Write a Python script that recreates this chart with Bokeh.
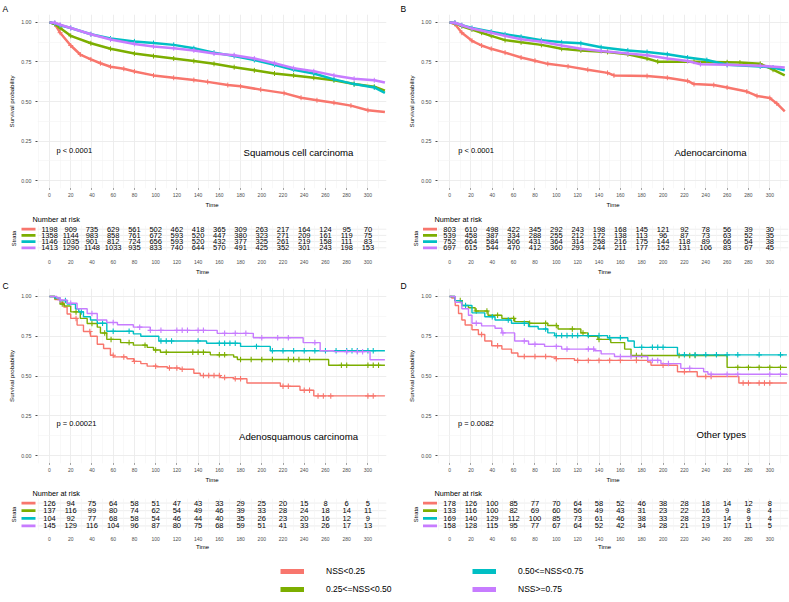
import numpy as np
from bokeh.plotting import figure
from bokeh.layouts import column, row
from bokeh.models import Range1d, FixedTicker, NumeralTickFormatter, Legend, LegendItem
from bokeh.core.properties import value
from bokeh.embed import file_html
from bokeh.resources import INLINE

FONT = "Liberation Sans"
GROUPS = ["NSS<0.25", "0.25<=NSS<0.50", "0.50<=NSS<0.75", "NSS>=0.75"]
COLORS = ["#F8766D", "#7CAE00", "#00BFC4", "#C77CFF"]

TIME_TICKS = [0, 20, 40, 60, 80, 100, 120, 140, 160, 180, 200, 220, 240, 260, 280, 300]
TIME_MINOR = [-10, 10, 30, 50, 70, 90, 110, 130, 150, 170, 190, 210, 230, 250, 270, 290, 310]
SURV_TICKS = [0, 0.25, 0.5, 0.75, 1.0]
SURV_MINOR = [0.125, 0.375, 0.625, 0.875]

# ---------------- Panel A : Squamous cell carcinoma ----------------
A_NAME = "Squamous cell carcinoma"
A_PVAL = "p < 0.0001"
A_TIME = [
    [0, 5, 10, 20, 29, 39, 48, 57.5, 70, 80, 98, 117, 136, 149, 168, 180, 199, 221, 237, 252, 268, 284, 300, 316],
    [0, 5, 10, 20, 39, 57.5, 80, 98, 117, 136, 155, 174, 193, 212, 230, 249, 268, 287, 306, 316],
    [0, 5, 10, 20, 39, 57.5, 80, 98, 117, 136, 155, 174, 193, 212, 230, 249, 268, 287, 306, 316],
    [0, 5, 10, 20, 39, 57.5, 80, 98, 117, 136, 155, 174, 193, 212, 230, 249, 268, 287, 306, 316],
]
A_SURV = [
    [1.0, 0.99, 0.935, 0.854, 0.797, 0.766, 0.742, 0.72, 0.707, 0.69, 0.665, 0.65, 0.636, 0.624, 0.604, 0.596, 0.575, 0.553, 0.524, 0.508, 0.492, 0.474, 0.445, 0.433],
    [1.0, 0.99, 0.965, 0.915, 0.868, 0.833, 0.803, 0.787, 0.772, 0.756, 0.738, 0.717, 0.697, 0.677, 0.665, 0.65, 0.634, 0.61, 0.593, 0.569],
    [1.0, 0.995, 0.982, 0.965, 0.925, 0.898, 0.88, 0.87, 0.858, 0.837, 0.809, 0.787, 0.762, 0.732, 0.701, 0.677, 0.64, 0.61, 0.589, 0.555],
    [1.0, 0.998, 0.985, 0.965, 0.925, 0.892, 0.864, 0.848, 0.837, 0.823, 0.803, 0.793, 0.772, 0.742, 0.711, 0.691, 0.665, 0.644, 0.634, 0.62],
]
A_RISK = [
    [1198, 909, 735, 629, 561, 502, 462, 418, 365, 309, 263, 217, 164, 124, 95, 70],
    [1358, 1144, 983, 858, 761, 672, 593, 520, 447, 380, 323, 271, 209, 161, 119, 75],
    [1146, 1035, 901, 812, 724, 656, 593, 520, 432, 377, 325, 261, 219, 158, 111, 83],
    [1413, 1290, 1148, 1033, 935, 833, 740, 644, 570, 491, 425, 352, 301, 243, 198, 153],
]

# ---------------- Panel B : Adenocarcinoma ----------------
B_NAME = "Adenocarcinoma"
B_PVAL = "p < 0.0001"
B_TIME = [
    [0, 5, 11.5, 21, 30, 39, 52, 67, 80, 92, 111, 129.5, 148, 154, 185, 204, 223, 229, 247.5, 260, 278.5, 288, 300, 306.5, 314],
    [0, 5, 11.5, 21, 30, 39, 52, 67, 86, 105, 123, 148, 167, 185, 195, 229, 260, 272, 291, 303, 314],
    [0, 5, 11.5, 21, 39, 52, 67, 86, 105, 123, 142, 167, 185, 204, 223, 241, 260, 291, 303, 314],
    [0, 5, 11.5, 21, 39, 52, 67, 86, 105, 123, 142, 167, 185, 204, 223, 235, 260, 291, 314],
]
B_SURV = [
    [1.0, 0.99, 0.935, 0.884, 0.854, 0.833, 0.809, 0.778, 0.758, 0.738, 0.722, 0.701, 0.681, 0.665, 0.661, 0.65, 0.63, 0.61, 0.604, 0.589, 0.563, 0.535, 0.522, 0.488, 0.437],
    [1.0, 0.995, 0.976, 0.955, 0.935, 0.915, 0.888, 0.874, 0.858, 0.833, 0.823, 0.813, 0.799, 0.772, 0.752, 0.752, 0.748, 0.746, 0.738, 0.701, 0.665],
    [1.0, 0.998, 0.982, 0.965, 0.941, 0.925, 0.909, 0.888, 0.874, 0.868, 0.843, 0.823, 0.813, 0.799, 0.778, 0.762, 0.732, 0.722, 0.715, 0.697],
    [1.0, 0.998, 0.982, 0.961, 0.935, 0.915, 0.894, 0.878, 0.854, 0.833, 0.819, 0.803, 0.793, 0.772, 0.756, 0.736, 0.732, 0.726, 0.715],
]
B_RISK = [
    [803, 610, 498, 422, 345, 292, 243, 198, 168, 145, 121, 92, 78, 56, 39, 30],
    [539, 458, 387, 334, 288, 255, 212, 172, 138, 113, 96, 87, 73, 63, 52, 35],
    [752, 664, 584, 506, 431, 364, 314, 258, 216, 175, 144, 118, 89, 66, 54, 38],
    [697, 615, 544, 470, 412, 360, 293, 244, 211, 177, 152, 131, 106, 83, 67, 45],
]

# ---------------- Panel C : Adenosquamous carcinoma ----------------
C_NAME = "Adenosquamous carcinoma"
C_PVAL = "p = 0.00021"
C_TIME = [
    [0, 5, 10.4, 13.5, 16.6, 20, 26, 32, 38.6, 45, 51, 57.4, 60.6, 73, 79.4, 86, 92, 101, 111, 123, 136, 142, 161, 173.5, 186, 217.5, 236, 249, 316],
    [0, 5, 10, 14, 20, 29, 35.5, 45, 48, 54, 67, 79, 92, 98, 104.5, 151.5, 173.5, 177, 263, 316],
    [0, 5, 10, 16.6, 24.5, 27.6, 32, 38.6, 45, 54, 79, 86, 103, 148, 180, 208, 316],
    [0, 7, 10, 16.6, 26, 35.5, 45, 54, 64, 79, 95, 158, 192, 239, 255, 268, 302, 316],
]
C_SURV = [
    [1.0, 0.98, 0.963, 0.933, 0.89, 0.862, 0.82, 0.78, 0.75, 0.70, 0.673, 0.63, 0.62, 0.608, 0.592, 0.578, 0.562, 0.558, 0.55, 0.542, 0.517, 0.503, 0.49, 0.483, 0.456, 0.436, 0.41, 0.375, 0.375],
    [1.0, 0.985, 0.953, 0.94, 0.903, 0.862, 0.83, 0.807, 0.77, 0.73, 0.71, 0.694, 0.68, 0.663, 0.649, 0.633, 0.619, 0.604, 0.568, 0.568],
    [1.0, 0.99, 0.974, 0.953, 0.923, 0.903, 0.872, 0.852, 0.832, 0.781, 0.765, 0.75, 0.72, 0.706, 0.686, 0.659, 0.659],
    [1.0, 0.99, 0.978, 0.957, 0.923, 0.893, 0.852, 0.836, 0.822, 0.807, 0.787, 0.768, 0.74, 0.71, 0.659, 0.653, 0.602, 0.602],
]
C_CENS = [
    [25, 38, 60, 70, 80, 100, 113, 120, 125, 145, 150, 155, 160, 165, 175, 180, 220, 225, 240, 245, 253, 258, 265, 300, 305],
    [12, 25, 40, 52, 58, 75, 90, 100, 110, 135, 140, 145, 160, 165, 180, 190, 200, 210, 225, 230, 235, 245, 275, 280, 300, 305, 310],
    [15, 30, 50, 60, 75, 105, 110, 115, 140, 160, 165, 170, 175, 195, 210, 220, 230, 240, 250, 260, 270, 280, 285, 290, 300, 305],
    [10, 20, 40, 60, 85, 95, 105, 120, 125, 130, 140, 145, 165, 175, 185, 200, 215, 225, 250, 280, 290, 295],
]
C_RISK = [
    [126, 94, 75, 64, 58, 51, 47, 43, 33, 29, 25, 20, 15, 8, 6, 5],
    [137, 116, 99, 80, 74, 62, 54, 49, 46, 39, 33, 28, 24, 18, 14, 11],
    [104, 92, 77, 68, 58, 54, 46, 44, 40, 35, 26, 23, 20, 16, 12, 9],
    [145, 129, 116, 104, 96, 87, 80, 75, 68, 59, 51, 41, 33, 26, 17, 13],
]

# ---------------- Panel D : Other types ----------------
D_NAME = "Other types"
D_PVAL = "p = 0.0082"
D_TIME = [
    [0, 2, 5.3, 8.4, 11.5, 14.6, 21, 27, 33, 39.5, 49, 58, 64, 95.4, 100, 117, 185.6, 188.7, 213.5, 232, 271, 316],
    [0, 5, 11.5, 17.7, 24, 36, 49, 61, 74, 92, 101.6, 123, 129.6, 139, 151, 164, 170, 260, 316],
    [0, 5, 11.5, 21, 33, 42.6, 58, 74, 83, 92, 98.5, 148, 167, 173, 213.5, 316],
    [0, 5.3, 11.5, 17.7, 21, 30, 42.6, 49, 61, 74, 89, 105, 136, 142, 154.5, 185.6, 198, 216.6, 238, 242, 316],
]
D_SURV = [
    [1.0, 0.99, 0.943, 0.893, 0.852, 0.821, 0.791, 0.761, 0.72, 0.69, 0.669, 0.645, 0.623, 0.619, 0.609, 0.598, 0.588, 0.568, 0.527, 0.497, 0.456, 0.456],
    [1.0, 0.974, 0.943, 0.929, 0.909, 0.882, 0.862, 0.842, 0.832, 0.817, 0.795, 0.771, 0.75, 0.73, 0.71, 0.669, 0.629, 0.554, 0.554],
    [1.0, 0.974, 0.943, 0.897, 0.872, 0.852, 0.832, 0.811, 0.795, 0.771, 0.754, 0.74, 0.72, 0.68, 0.633, 0.633],
    [1.0, 0.963, 0.923, 0.882, 0.832, 0.815, 0.8, 0.771, 0.72, 0.70, 0.686, 0.669, 0.659, 0.639, 0.623, 0.598, 0.578, 0.548, 0.527, 0.511, 0.507],
]
D_CENS = [
    [30, 45, 70, 80, 90, 100, 120, 130, 140, 150, 160, 175, 200, 220, 240, 245, 275, 280, 290, 295, 300],
    [10, 25, 35, 45, 60, 75, 90, 100, 115, 125, 140, 175, 180, 215, 225, 230, 270, 280, 290, 300, 310],
    [15, 40, 55, 70, 90, 100, 105, 110, 115, 120, 130, 140, 150, 160, 180, 190, 195, 200, 220, 230, 240, 250, 260, 270, 290, 310],
    [25, 50, 70, 80, 100, 110, 130, 135, 160, 170, 190, 195, 205, 225, 245, 260, 270, 300, 310],
]
D_RISK = [
    [178, 126, 100, 85, 77, 70, 64, 58, 52, 46, 38, 28, 18, 14, 12, 8],
    [133, 116, 100, 82, 69, 60, 56, 49, 43, 31, 23, 22, 16, 9, 8, 4],
    [169, 140, 129, 112, 100, 85, 73, 61, 46, 38, 33, 28, 23, 14, 9, 4],
    [158, 128, 115, 95, 77, 67, 64, 52, 42, 34, 28, 21, 19, 17, 11, 5],
]

# ---------------- layout constants ----------------
X_LO, X_HI = -11.3, 317.5
Y_LO, Y_HI = -0.05, 1.05
ROWS_Y = [4, 3, 2, 1]
GRID_MAJOR = "#EBEBEB"
GRID_MINOR = "#F4F4F4"
TICK_COLOR = "#4D4D4D"
NAN = [float("nan")]


def base_fig(w, h, l, r, t, b, xr, yr, title):
    p = figure(width=w, height=h, x_range=xr, y_range=yr, title=title,
               output_backend="svg", toolbar_location=None,
               min_border_left=l, min_border_right=r, min_border_top=t, min_border_bottom=b)
    p.outline_line_color = None
    p.background_fill_color = "white"
    p.border_fill_color = "white"
    return p


def style_title(p, size, offset, standoff):
    p.title.text_font = FONT
    p.title.text_font_size = size
    p.title.text_font_style = "normal"
    p.title.text_color = "black"
    p.title.align = "left"
    p.title.offset = offset
    p.title.standoff = standoff


def style_axis(ax, tick_out, label_size, tick_size, label_standoff, tick_standoff):
    ax.axis_line_color = None
    ax.major_tick_line_color = TICK_COLOR if tick_out > 0 else None
    ax.major_tick_out = tick_out
    ax.major_tick_in = 0
    ax.minor_tick_line_color = None
    ax.major_label_text_font = FONT
    ax.major_label_text_font_size = tick_size
    ax.major_label_text_color = TICK_COLOR
    ax.major_label_standoff = tick_standoff
    ax.axis_label_text_font = FONT
    ax.axis_label_text_font_style = "normal"
    ax.axis_label_text_font_size = label_size
    ax.axis_label_text_color = "black"
    ax.axis_label_standoff = label_standoff


def style_grid(g):
    g.grid_line_color = GRID_MAJOR
    g.grid_line_width = 0.9
    g.minor_grid_line_color = GRID_MINOR
    g.minor_grid_line_width = 0.6


def km_panel(letter, times, survs, cens, steps, pval, pval_xy, name, name_xy,
             w, h, l, r, t, b, letter_offset, letter_standoff):
    p = base_fig(w, h, l, r, t, b, Range1d(X_LO, X_HI), Range1d(Y_LO, Y_HI), letter)
    style_title(p, "8.5px", letter_offset, letter_standoff)

    p.xaxis.ticker = FixedTicker(ticks=TIME_TICKS, minor_ticks=TIME_MINOR)
    p.yaxis.ticker = FixedTicker(ticks=SURV_TICKS, minor_ticks=SURV_MINOR)
    p.yaxis.formatter = NumeralTickFormatter(format="0.00")
    p.xaxis.axis_label = "Time"
    p.yaxis.axis_label = "Survival probability"
    style_axis(p.xaxis[0], 1, "6px", "5px", 2, 0)
    style_axis(p.yaxis[0], 2, "6.2px", "5.3px", 3, 2)
    style_grid(p.xgrid[0])
    style_grid(p.ygrid[0])
    p.xgrid.ticker = p.xaxis[0].ticker
    p.ygrid.ticker = p.yaxis[0].ticker

    for i in range(4):
        tt = np.array(times[i], dtype=float)
        ss = np.array(survs[i], dtype=float)
        if steps:
            p.step(x=tt, y=ss, mode="after", line_color=COLORS[i], line_width=1.4)
            cc = np.array(cens[i], dtype=float)
            idx = np.searchsorted(tt, cc, side="right") - 1
            p.scatter(x=cc, y=ss[idx], marker="cross", size=5.5, line_color=COLORS[i], line_width=1.1)
        else:
            p.line(x=tt, y=ss, line_color=COLORS[i], line_width=2.5)
            p.scatter(x=tt[1:-1], y=ss[1:-1], marker="cross", size=5, line_color=COLORS[i], line_width=1.0)

    p.text(x=[pval_xy[0]], y=[pval_xy[1]], text=[pval], text_font=value(FONT),
           text_font_size="7.5px", text_align="left", text_baseline="middle", text_color="black")
    p.text(x=[name_xy[0]], y=[name_xy[1]], text=[name], text_font=value(FONT),
           text_font_size="9.6px", text_align="center", text_baseline="middle", text_color="black")
    return p


def risk_panel(counts, km_frame_w, w, h, l, r, t, b, km_l, bar_px,
               title_offset, title_standoff, tick_standoff, label_standoff):
    sx = km_frame_w / (X_HI - X_LO)            # same pixels per time unit as the KM plot
    frame_w = w - l - r
    x_start = X_HI - frame_w / sx               # frame reaches further left to hold the strata keys
    p = base_fig(w, h, l, r, t, b, Range1d(x_start, X_HI), Range1d(0.4, 4.6), "Number at risk")
    style_title(p, "7.3px", title_offset, title_standoff)

    p.xaxis.ticker = FixedTicker(ticks=TIME_TICKS, minor_ticks=TIME_MINOR)
    p.xaxis.axis_label = "Time"
    style_axis(p.xaxis[0], 0, "6px", "5px", label_standoff, tick_standoff)
    p.yaxis.ticker = FixedTicker(ticks=[])
    p.yaxis.axis_label = "Strata"
    style_axis(p.yaxis[0], 0, "5.8px", "5px", 2, 0)
    p.xgrid.ticker = p.xaxis[0].ticker
    style_grid(p.xgrid[0])
    p.ygrid.grid_line_color = None

    p.segment(x0=[X_LO] * 4, y0=ROWS_Y, x1=[X_HI] * 4, y1=ROWS_Y,
              line_color=GRID_MAJOR, line_width=0.9, level="underlay")
    for i in range(4):
        p.text(x=TIME_TICKS, y=[ROWS_Y[i]] * len(TIME_TICKS), text=[str(c) for c in counts[i]],
               text_font=value(FONT), text_font_size="7.5px", text_align="center",
               text_baseline="middle", text_color="black")
    bx = x_start + (bar_px - l) / sx
    p.scatter(x=[bx] * 4, y=ROWS_Y, marker="dash", size=14, line_color=COLORS, line_width=2.7)
    return p


LW, RW = 395, 394
kmA = km_panel("A", A_TIME, A_SURV, None, False, A_PVAL, (6.5, 0.19), A_NAME, (234.6, 0.179),
               LW, 210, 37, 9, 13, 17, 2 - 37, 2)
kmB = km_panel("B", B_TIME, B_SURV, None, False, B_PVAL, (8.1, 0.19), B_NAME, (244.4, 0.179),
               RW, 210, 42, 1, 13, 17, 5 - 42, 2)
kmC = km_panel("C", C_TIME, C_SURV, C_CENS, True, C_PVAL, (6.6, 0.203), C_NAME, (234.6, 0.118),
               LW, 208, 37, 9, 11, 17, 2 - 37, -5)
kmD = km_panel("D", D_TIME, D_SURV, D_CENS, True, D_PVAL, (7.8, 0.203), D_NAME, (254.5, 0.132),
               RW, 208, 42, 1, 11, 17, 5 - 42, -5)

KM_FW_L = LW - 37 - 9
KM_FW_R = RW - 42 - 1
rkA = risk_panel(A_RISK, KM_FW_L, LW, 67, 18, 9, 15, 21, 37, 28, 14, 3, 4, 2)
rkB = risk_panel(B_RISK, KM_FW_R, RW, 67, 25, 1, 15, 21, 42, 34.5, 14, 3, 4, 2)
rkC = risk_panel(C_RISK, KM_FW_L, LW, 67, 18, 9, 13, 16, 37, 28, 14, 2, 2, 0)
rkD = risk_panel(D_RISK, KM_FW_R, RW, 67, 25, 1, 13, 16, 42, 34.5, 14, 2, 2, 0)

# legend strip
lg = figure(width=789, height=50, x_range=Range1d(0, 1), y_range=Range1d(0, 1),
            output_backend="svg", toolbar_location=None,
            min_border_left=0, min_border_right=0, min_border_top=0, min_border_bottom=0)
lg.axis.visible = False
lg.grid.visible = False
lg.outline_line_color = None
rends = [lg.line(x=NAN, y=NAN, line_color=c, line_width=5) for c in COLORS]
for items, loc in (([0, 1], (280, 6)), ([2, 3], (472, 6))):
    leg = Legend(items=[LegendItem(label=GROUPS[k], renderers=[rends[k]]) for k in items],
                 location=loc, orientation="vertical")
    leg.label_text_font = FONT
    leg.label_text_font_size = "8.5px"
    leg.label_text_color = "black"
    leg.glyph_width = 24
    leg.glyph_height = 14
    leg.label_height = 14
    leg.label_standoff = 22
    leg.spacing = 4
    leg.padding = 0
    leg.margin = 0
    leg.border_line_color = None
    leg.background_fill_alpha = 0
    lg.add_layout(leg)

layout = column(row(kmA, kmB), row(rkA, rkB), row(kmC, kmD), row(rkC, rkD), lg)

open("out.html", "w").write(file_html(layout, INLINE))
